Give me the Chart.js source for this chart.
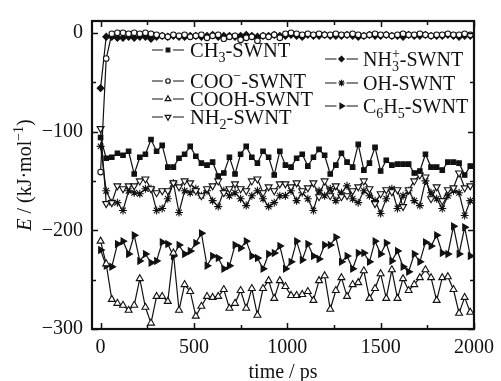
<!DOCTYPE html>
<html><head><meta charset="utf-8">
<script src="https://cdn.jsdelivr.net/npm/chart.js@4/dist/chart.umd.min.js"></script>
<style>html,body{margin:0;padding:0;background:#fff;}</style>
</head><body>
<canvas id="c" width="501" height="381" style="width:501px;height:381px;display:block"></canvas>
<script>
const time = [0,30,60,90,120,150,180,210,240,270,300,330,360,390,420,450,480,510,540,570,600,630,660,690,720,750,780,810,840,870,900,930,960,990,1020,1050,1080,1110,1140,1170,1200,1230,1260,1290,1320,1350,1380,1410,1440,1470,1500,1530,1560,1590,1620,1650,1680,1710,1740,1770,1800,1830,1860,1890,1920,1950,1980];

const ch3 = [-106,-127,-126,-122,-124,-120,-143,-126,-123,-108,-120,-114,-136,-136,-127,-123,-115,-125,-132,-134,-131,-145,-142,-126,-143,-123,-115,-126,-132,-120,-126,-144,-120,
-134,-136,-127,-123,-135,-126,-118,-124,-143,-134,-122,-131,-136,-113,-139,-132,-116,-140,-129,-134,-133,-133,-133,-142,-140,-123,-136,-136,-139,-131,-131,-132,-144,-135];

const coo = [-141,-26,-1,0,0,-1,0,-1,0,-1,-2,-3,-4,-2,-3,-2,-4,-3,-2,-5,-3,-2,-6,-4,-3,-7,-5,-4,-8,-3,-4,-2,-5,
-1,0,-1,-2,-1,-2,-1,-2,-2,-1,-2,-2,-1,-2,-3,-2,-1,-2,-2,-3,-2,-1,-2,-2,-1,-2,-3,-2,-2,-1,-2,-2,-1,-2];

const cooh = [-211,-234,-270,-274,-276,-281,-276,-249,-278,-294,-267,-267,-272,-223,-281,-255,-262,-287,-277,-267,-268,-267,-260,-279,-274,-261,-279,-259,-286,-259,-251,-269,-251,
-257,-266,-266,-265,-262,-271,-251,-246,-280,-261,-248,-267,-255,-253,-241,-269,-259,-244,-269,-240,-269,-249,-261,-255,-248,-240,-248,-271,-248,-247,-260,-284,-268,-283];

const nh2 = [-97,-173,-172,-155,-158,-155,-155,-150,-148,-158,-162,-160,-160,-152,-156,-150,-152,-160,-165,-158,-155,-150,-162,-158,-153,-158,-160,-150,-148,-162,-156,-160,-153,
-153,-156,-152,-160,-157,-152,-166,-150,-165,-155,-166,-165,-160,-156,-150,-158,-173,-163,-159,-161,-159,-176,-159,-150,-144,-146,-168,-156,-170,-159,-157,-142,-157,-155];

const nh3 = [-56,-4,-4,-5,-5,-4,-5,-4,-4,-6,-4,-3,-4,-3,-4,-4,-3,-3,-4,-3,-2,-4,-3,-3,-4,-3,-2,-3,-4,-3,-3,-2,-3,
-3,-2,-3,-4,-2,-3,-3,-2,-3,-3,-3,-2,-3,-4,-3,-2,-3,-3,-2,-3,-3,-4,-2,-3,-3,-2,-3,-3,-3,-2,-3,-4,-3,-3];

const oh = [-115,-160,-172,-172,-180,-160,-162,-163,-158,-158,-180,-178,-168,-152,-182,-160,-162,-158,-165,-160,-170,-176,-160,-165,-162,-168,-175,-165,-160,-168,-176,-172,-165,
-165,-160,-170,-162,-168,-180,-160,-165,-158,-170,-162,-155,-168,-172,-160,-165,-170,-183,-168,-158,-178,-165,-160,-170,-175,-150,-162,-168,-178,-165,-160,-162,-185,-170];

const c6h5 = [-220,-236,-237,-214,-211,-224,-205,-231,-224,-233,-231,-212,-214,-226,-215,-224,-221,-213,-203,-236,-226,-228,-239,-236,-215,-218,-211,-226,-228,-239,-224,-223,-216,
-239,-232,-211,-230,-214,-226,-229,-215,-215,-207,-232,-226,-239,-223,-223,-232,-211,-224,-213,-231,-221,-237,-242,-224,-232,-212,-216,-205,-223,-224,-196,-224,-197,-226];

const seriesLabels = ['CH_3-SWNT','COO^\u2212-SWNT','COOH-SWNT','NH_2-SWNT','NH_3^+-SWNT','OH-SWNT','C_6H_5-SWNT'];
const xTicks = [0,250,500,750,1000,1250,1500,1750,2000];
const yTicks = [-300,-250,-200,-150,-100,-50,0];

const FONT = '"Liberation Serif","Times New Roman",serif';
const ink = '#111';

const styles = [
  {pointStyle:'rect', fill:true, radius:3.2, rotation:0},
  {pointStyle:'circle', fill:false, radius:2.8, rotation:0},
  {pointStyle:'triangle', fill:false, radius:4, rotation:0},
  {pointStyle:'triangle', fill:false, radius:4, rotation:180},
  {pointStyle:'rectRot', fill:true, radius:3.4, rotation:0},
  {pointStyle:'star', fill:false, radius:4, rotation:0},
  {pointStyle:'triangle', fill:true, radius:3.8, rotation:90}
];
const seriesData = [ch3, coo, cooh, nh2, nh3, oh, c6h5];

const datasets = seriesData.map((arr, i) => ({
  label: seriesLabels[i],
  data: time.map((t, k) => ({x: t, y: arr[k]})),
  borderColor: ink,
  borderWidth: 1.2,
  pointStyle: styles[i].pointStyle,
  pointRotation: styles[i].rotation,
  pointRadius: styles[i].radius,
  pointBorderWidth: 1.1,
  pointBorderColor: ink,
  pointBackgroundColor: styles[i].fill ? ink : '#fff',
  tension: 0,
  clip: false
}));

function drawRich(ctx, x, y, str, size) {
  let cx = x, lastSubStart = null, lastSubW = 0, i = 0;
  while (i < str.length) {
    const c = str[i];
    if (c === '_' || c === '^') {
      const ch = str[i+1];
      const small = Math.round(size*0.68);
      ctx.font = small + 'px ' + FONT;
      const w = ctx.measureText(ch).width;
      if (c === '_') {
        ctx.fillText(ch, cx, y + size*0.28);
        lastSubStart = cx; lastSubW = w; cx += w;
      } else {
        if (lastSubStart !== null && str[i-2] === '_') {
          ctx.fillText(ch, lastSubStart, y - size*0.38);
          cx = lastSubStart + Math.max(w, lastSubW);
        } else {
          ctx.fillText(ch, cx, y - size*0.38);
          cx += w;
        }
        lastSubStart = null;
      }
      i += 2;
    } else {
      let j = i;
      while (j < str.length && str[j] !== '_' && str[j] !== '^') j++;
      const seg = str.slice(i, j);
      ctx.font = size + 'px ' + FONT;
      ctx.fillText(seg, cx, y);
      cx += ctx.measureText(seg).width;
      i = j;
    }
  }
  return cx - x;
}

const legendPos = [
  {x1:152, x2:184, tx:190, cy:50, size:20.5},
  {x1:152, x2:184, tx:190, cy:81, size:20.5},
  {x1:152, x2:184, tx:190, cy:99, size:20.5},
  {x1:152, x2:184, tx:190, cy:117, size:20.5},
  {x1:325, x2:358, tx:363, cy:59, size:20},
  {x1:325, x2:358, tx:363, cy:83, size:20},
  {x1:325, x2:358, tx:363, cy:106, size:20}
];

const decor = {
  id: 'decor',
  afterDraw(chart) {
    const ctx = chart.ctx, a = chart.chartArea;
    const xs = chart.scales.x, ys = chart.scales.y;
    ctx.save();
    ctx.strokeStyle = ink; ctx.lineWidth = 1.5;
    xTicks.forEach(v => {
      const p = Math.round(xs.getPixelForValue(v)) + 0.5;
      const len = (v % 500 === 0) ? 6 : 4;
      ctx.beginPath();
      ctx.moveTo(p, a.bottom); ctx.lineTo(p, a.bottom - len);
      ctx.moveTo(p, a.top); ctx.lineTo(p, a.top + len);
      ctx.stroke();
    });
    yTicks.forEach(v => {
      const p = Math.round(ys.getPixelForValue(v)) + 0.5;
      const len = (v % 100 === 0) ? 6 : 4;
      ctx.beginPath();
      ctx.moveTo(a.left, p); ctx.lineTo(a.left + len, p);
      ctx.moveTo(a.right, p); ctx.lineTo(a.right - len, p);
      ctx.stroke();
    });
    ctx.lineWidth = 2.2;
    ctx.strokeRect(a.left, a.top, a.right - a.left, a.bottom - a.top);

    // legend
    ctx.textBaseline = 'alphabetic';
    legendPos.forEach((lp, i) => {
      const mid = (lp.x1 + lp.x2)/2;
      ctx.lineWidth = 1.2; ctx.strokeStyle = ink;
      ctx.beginPath();
      ctx.moveTo(lp.x1, lp.cy); ctx.lineTo(mid - 5, lp.cy);
      ctx.moveTo(mid + 5, lp.cy); ctx.lineTo(lp.x2, lp.cy);
      ctx.stroke();
      const st = styles[i];
      ctx.fillStyle = st.fill ? ink : '#fff';
      Chart.helpers.drawPoint(ctx, {pointStyle: st.pointStyle, radius: st.radius*0.8, rotation: st.rotation, borderWidth: 1}, mid, lp.cy);
      ctx.fillStyle = ink;
      drawRich(ctx, lp.tx, lp.cy + 6.5, seriesLabels[i], lp.size);
    });

    const size = 20;
    ctx.fillStyle = ink;
    ctx.font = size + 'px ' + FONT;
    ctx.textAlign = 'center';
    ctx.fillText('time / ps', (a.left + a.right)/2, 378);
    ctx.textAlign = 'left';

    ctx.save();
    ctx.translate(31, (a.top + a.bottom)/2);
    ctx.rotate(-Math.PI/2);
    const t1 = 'E', t2 = ' / (kJ\u00B7mol', t3 = '\u22121', t4 = ')';
    ctx.font = 'italic ' + size + 'px ' + FONT; const w1 = ctx.measureText(t1).width;
    ctx.font = size + 'px ' + FONT; const w2 = ctx.measureText(t2).width, w4 = ctx.measureText(t4).width;
    ctx.font = Math.round(size*0.68) + 'px ' + FONT; const w3 = ctx.measureText(t3).width;
    let x0 = -(w1 + w2 + w3 + w4)/2;
    ctx.font = 'italic ' + size + 'px ' + FONT; ctx.fillText(t1, x0, 0); x0 += w1;
    ctx.font = size + 'px ' + FONT; ctx.fillText(t2, x0, 0); x0 += w2;
    ctx.font = Math.round(size*0.68) + 'px ' + FONT; ctx.fillText(t3, x0, -size*0.38); x0 += w3;
    ctx.font = size + 'px ' + FONT; ctx.fillText(t4, x0, 0);
    ctx.restore();
    ctx.restore();
  }
};

new Chart(document.getElementById('c'), {
  type: 'line',
  data: { datasets },
  options: {
    responsive: false,
    animation: false,
    devicePixelRatio: 1,
    layout: { padding: { top: 14, right: 23, left: 0, bottom: 0 } },
    plugins: { legend: { display: false }, tooltip: { enabled: false } },
    scales: {
      x: {
        type: 'linear', min: -46, max: 2000,
        afterBuildTicks: s => { s.ticks = xTicks.map(v => ({value: v})); },
        afterFit: s => { s.height = 52; },
        grid: { display: false, drawTicks: false },
        border: { display: false },
        ticks: { autoSkip: false, maxRotation: 0, padding: 7, color: ink,
          font: { family: FONT, size: 20 },
          callback: v => (v % 500 === 0 ? String(v) : '') }
      },
      y: {
        type: 'linear', min: -300, max: 12,
        afterBuildTicks: s => { s.ticks = yTicks.map(v => ({value: v})); },
        afterFit: s => { s.width = 92; },
        grid: { display: false, drawTicks: false },
        border: { display: false },
        ticks: { autoSkip: false, padding: 9, color: ink,
          font: { family: FONT, size: 20 },
          callback: v => (v % 100 === 0 ? (v < 0 ? '\u2212' + Math.abs(v) : '0') : '') }
      }
    }
  },
  plugins: [decor]
});
</script>
</body></html>
